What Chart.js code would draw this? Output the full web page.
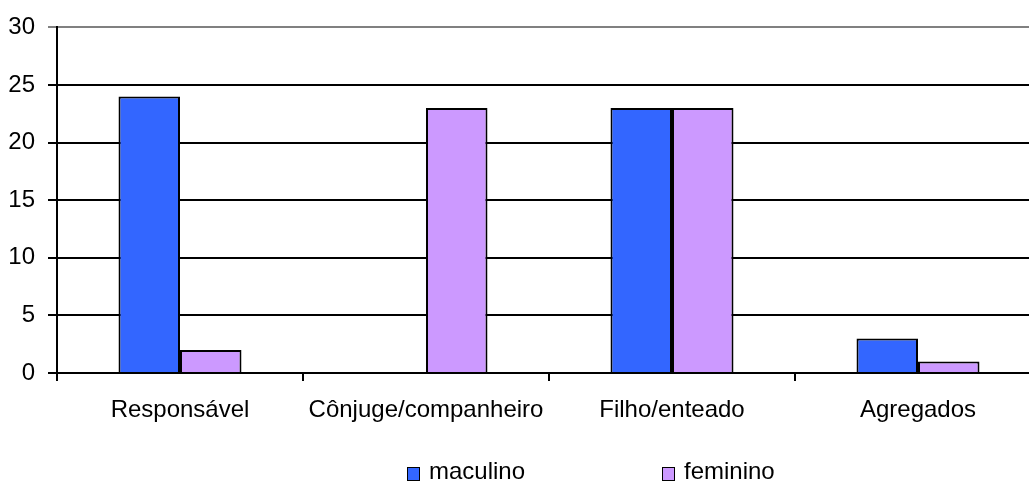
<!DOCTYPE html>
<html>
<head>
<meta charset="utf-8">
<script src="https://cdn.jsdelivr.net/npm/chart.js@4/dist/chart.umd.min.js"></script>
<style>
html,body{margin:0;padding:0;background:#fff;overflow:hidden;width:1029px;height:483px;}
#wrap{position:relative;width:1041px;height:483px;}
canvas{position:absolute;left:0;top:0;}
.lg{position:absolute;font-family:"Liberation Sans",Arial,sans-serif;font-size:24px;line-height:24px;color:#000;white-space:nowrap;}
.bx{position:absolute;width:11px;height:12px;border:1.5px solid #000;}
</style>
</head>
<body>
<div id="wrap">
<canvas id="c" width="1041" height="483"></canvas>
<div class="bx" style="left:407px;top:467px;background:#3366FF"></div>
<div class="lg" style="left:429px;top:459px">maculino</div>
<div class="bx" style="left:662px;top:467px;background:#CC99FF"></div>
<div class="lg" style="left:684px;top:459px">feminino</div>
</div>
<script>
const categories = ['Responsável', 'Cônjuge/companheiro', 'Filho/enteado', 'Agregados'];
const maculino = [24, 0, 23, 3];
const feminino = [2, 23, 23, 1];
const seriesNames = ['maculino', 'feminino'];
const yMin = 0, yMax = 30, yStep = 5;

const FONT = {family: '"Liberation Sans", Arial, sans-serif', size: 24};

new Chart(document.getElementById('c'), {
  type: 'bar',
  data: {
    labels: categories,
    datasets: [
      {label: seriesNames[0], data: maculino, backgroundColor: '#3366FF', borderColor: '#000', borderWidth: 2, categoryPercentage: 0.5, barPercentage: 1},
      {label: seriesNames[1], data: feminino, backgroundColor: '#CC99FF', borderColor: '#000', borderWidth: 2, categoryPercentage: 0.5, barPercentage: 1}
    ]
  },
  options: {
    responsive: false,
    animation: false,
    devicePixelRatio: 1,
    layout: {padding: {top: 24, right: 0, left: 0, bottom: 0}},
    plugins: {legend: {display: false}, tooltip: {enabled: false}},
    scales: {
      y: {
        min: yMin, max: yMax,
        ticks: {stepSize: yStep, font: FONT, color: '#000', padding: 13},
        grid: {
          color: (ctx) => (ctx.tick && ctx.tick.value === yMax) ? '#808080' : '#000',
          lineWidth: 2, tickLength: 9, drawTicks: true
        },
        border: {display: true, color: '#000', width: 2},
        afterFit: (s) => { s.width = 57; }
      },
      x: {
        offset: true,
        ticks: {font: FONT, color: '#000', padding: 15, maxRotation: 0},
        grid: {drawOnChartArea: false, drawTicks: true, tickLength: 8, color: '#000', lineWidth: 2},
        border: {display: true, color: '#000', width: 2},
        afterFit: (s) => { s.height = 110; }
      }
    }
  }
});
</script>
</body>
</html>
